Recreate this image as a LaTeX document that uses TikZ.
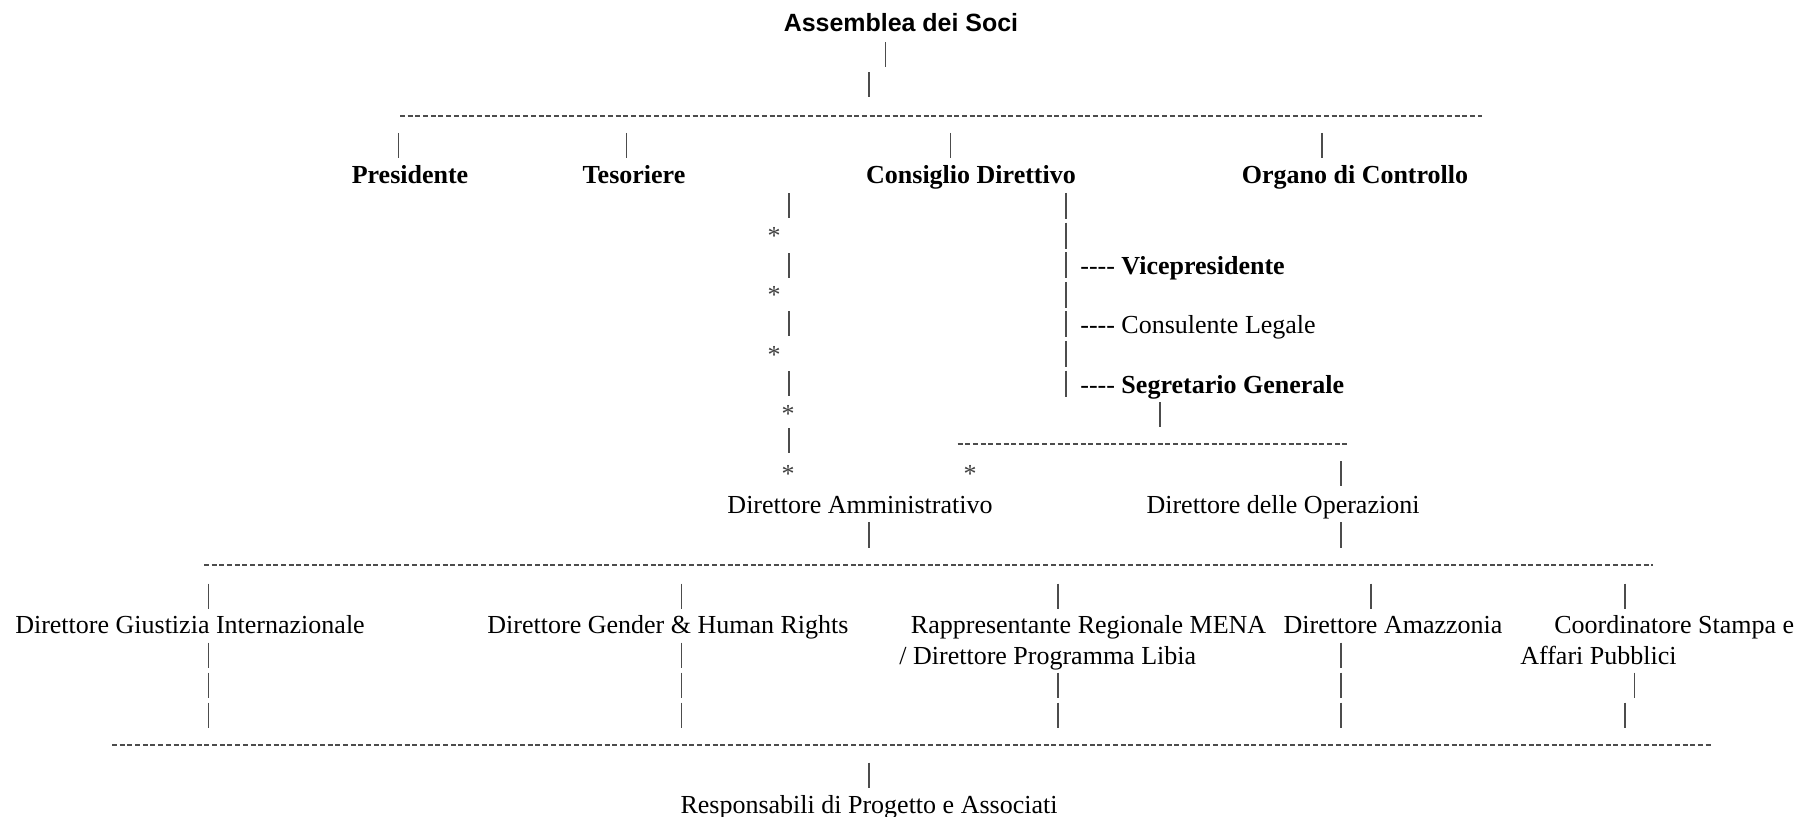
\documentclass[tikz,border=0pt]{standalone}
\usepackage{fontspec}
\setmainfont{Liberation Serif}[Ligatures=TeXOff]
\newfontfamily\titlefont{Liberation Sans}
\usepackage{tikz}
\tikzset{every node/.style={font=\fontsize{14.8}{17}\selectfont, inner sep=0pt},
  row/.style={text height=13.5pt, text depth=3pt},
  boss/.style={row, font=\fontsize{14.8}{17}\selectfont\bfseries},
  star/.style={text=black!75},
  pipeline/.style={draw=black!70, line width=0.8pt},
  dashline/.style={draw=black!70, line width=0.9pt, dash pattern=on 0.1cm off 0.054cm}}
\newcommand{\orgpipe}[3][25]
{\draw[pipeline] (#2,#3-#1/2) -- (#2,#3+#1/2);}
\newcommand{\dashrow}[3]
{\draw[dashline] (#1,#3) -- (#2,#3);}

\begin{document}
\begin{tikzpicture}[x=0.02cm,y=-0.02cm]
  \useasboundingbox (0,0) rectangle (1796,817);
  % assemblea and first level
  \node[row, font=\fontsize{14.2}{17}\selectfont\titlefont\bfseries] (assemblea) at (901,22) {Assemblea dei Soci};
  \orgpipe{885.5}{55}
  \orgpipe{869}{85}
  \dashrow{400}{1482}{116}
  \foreach \x in {398.6,626.5,950.7,1321.8} \orgpipe{\x}{145.5};
  \node[boss] (presidente) at (410,174) {Presidente};
  \node[boss] (tesoriere) at (634,174) {Tesoriere};
  \node[boss] (consiglio) at (971,174) {Consiglio Direttivo};
  \node[boss] (organo) at (1355,174) {Organo di Controllo};
  % column of pipes and stars
  \foreach \y in {206,265.7,324,383.7,441} \orgpipe{789}{\y};
  \foreach \y [count=\i] in {236,295,355} \node[star] (ast\i) at (774,\y) {*};
  \foreach \y [count=\i from 4] in {414,474} \node[star] (ast\i) at (788,\y) {*};
  % consiglio column
  \foreach \y in {206,235.6,...,384} \orgpipe[26]{1066}{\y};
  \node[row, anchor=west] (vicepres) at (1080,265) {---- \textbf{Vicepresidente}};
  \node[row, anchor=west] (consulente) at (1080,324) {---- Consulente Legale};
  \node[row, anchor=west] (segretario) at (1080,384) {---- \textbf{Segretario Generale}};
  \orgpipe{1160}{415}
  \dashrow{957.5}{1349}{444}
  \node[star] (ast6) at (970,474) {*};
  \orgpipe{1341}{474}
  \node[row] (dirAmm) at (860,504) {Direttore Amministrativo};
  \node[row] (dirOps) at (1283,504) {Direttore delle Operazioni};
  \orgpipe{869}{535}
  \orgpipe{1341}{535}
  % directors
  \dashrow{204}{1653}{565}
  \foreach \x in {208.5,681.5,1058,1371,1625} \orgpipe{\x}{596};
  \node[row] (dirGiust) at (190,624) {Direttore Giustizia Internazionale};
  \node[row] (dirGender) at (668,624) {Direttore Gender \& Human Rights};
  \node[row, anchor=west] (rappMena) at (910.6,624) {Rappresentante Regionale MENA};
  \node[row, anchor=west] (dirLibia) at (899,655) {/ Direttore Programma Libia};
  \node[row] (dirAmaz) at (1393,624) {Direttore Amazzonia};
  \node[row, anchor=west] (coordStampa) at (1554,624) {Coordinatore Stampa e};
  \node[row, anchor=west] (affari) at (1520,655) {Affari Pubblici};
  \foreach \x in {208.5,681.5,1341} \orgpipe{\x}{655};
  \foreach \x in {208.5,681.5,1058,1341,1634.5} \orgpipe{\x}{685};
  \foreach \x in {208.5,681.5,1058,1341,1625} \orgpipe{\x}{715};
  % bottom
  \dashrow{112}{1711}{745}
  \orgpipe{869}{775}
  \node[row] (respProg) at (869,804) {Responsabili di Progetto e Associati};
\end{tikzpicture}
\end{document}
